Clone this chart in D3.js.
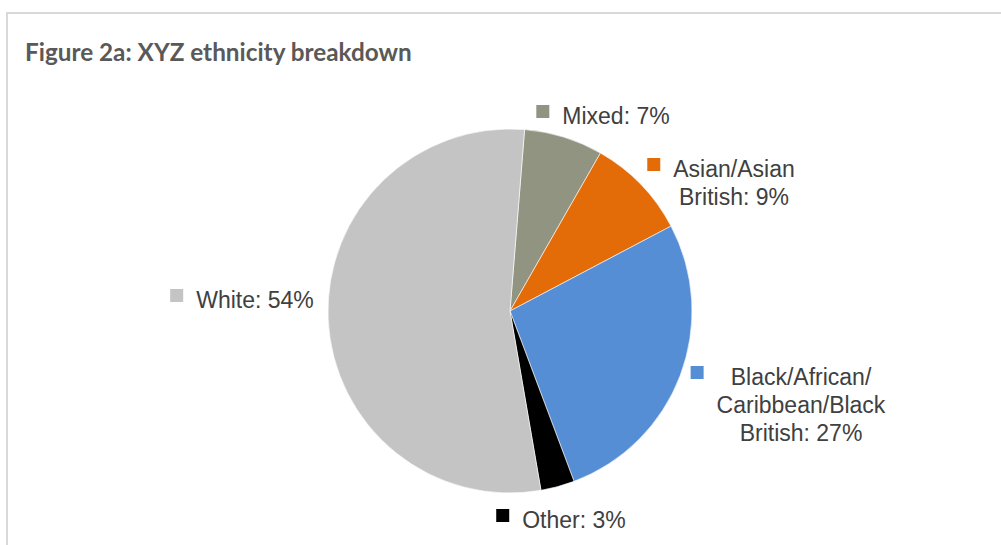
<!DOCTYPE html>
<html>
<head>
<meta charset="utf-8">
<script src="https://cdn.jsdelivr.net/npm/d3@7"></script>
<style>
  html, body { margin: 0; padding: 0; background: #fff; }
  svg { display: block; }
</style>
</head>
<body>
<svg id="chart" width="1001" height="545"></svg>
<script>
// Ethnicity shares, in clockwise order starting near 12 o'clock
const categories = ["Mixed", "Asian/Asian British", "Black/African/Caribbean/Black British", "Other", "White"];
const shares = [7, 9, 27, 3, 54];
const sliceColors = ["#929482", "#e36c09", "#558ed5", "#000000", "#c4c4c4"];
// Label text, split across lines as set in the chart
const labelLines = [
  ["Mixed: 7%"],
  ["Asian/Asian", "British: 9%"],
  ["Black/African/", "Caribbean/Black", "British: 27%"],
  ["Other: 3%"],
  ["White: 54%"]
];

const W = 1001, H = 545;
const cx = 510, cy = 311, R = 182;
const startAngle = 4.6 * Math.PI / 180;

// Where each label block sits (centre of block, first baseline), relative to the pie centre
const labelAnchors = [
  [106, -187],
  [224, -134],
  [291, 74],
  [64, 217],
  [-255, -3]
];

const svg = d3.select("#chart");

// Frame around the figure
svg.append("rect")
  .attr("x", 7).attr("y", 13)
  .attr("width", W + 20).attr("height", H + 20)
  .attr("fill", "#fff")
  .attr("stroke", "#d9d9d9")
  .attr("stroke-width", 2);

// Title
svg.append("text")
  .attr("x", 25).attr("y", 61)
  .attr("font-family", "Lato, 'Open Sans', sans-serif")
  .attr("font-weight", "bold")
  .attr("font-size", 24.3)
  .attr("fill", "#595959")
  .text("Figure 2a: XYZ ethnicity breakdown");

const data = categories.map((c, i) => ({ name: c, value: shares[i], color: sliceColors[i], lines: labelLines[i], anchor: labelAnchors[i] }));

const pie = d3.pie()
  .value(d => d.value)
  .sort(null)
  .startAngle(startAngle)
  .endAngle(startAngle + 2 * Math.PI);

const arc = d3.arc().innerRadius(0).outerRadius(R);

const g = svg.append("g").attr("transform", `translate(${cx},${cy})`);

g.selectAll("path.slice")
  .data(pie(data))
  .join("path")
  .attr("class", "slice")
  .attr("d", arc)
  .attr("fill", d => d.data.color)
  .attr("stroke", "#ffffff")
  .attr("stroke-width", 0.6);

// Data labels with legend-style colour keys
const fontSize = 23, lineH = 28, keySize = 13, keyGap = 13;
data.forEach(d => {
  const lg = g.append("g");
  const [ax, ay] = d.anchor;
  const widths = [];
  d.lines.forEach((line, i) => {
    const t = lg.append("text")
      .attr("x", ax)
      .attr("y", ay + i * lineH)
      .attr("text-anchor", "middle")
      .attr("font-family", "'Liberation Sans', Arial, sans-serif")
      .attr("font-size", fontSize)
      .attr("fill", "#404040")
      .text(line);
    widths.push(t.node().getComputedTextLength());
  });
  const maxW = d3.max(widths);
  lg.insert("rect", "text")
    .attr("x", ax - maxW / 2 - keyGap - keySize)
    .attr("y", ay - 19)
    .attr("width", keySize)
    .attr("height", keySize)
    .attr("fill", d.color);
});
</script>
</body>
</html>
